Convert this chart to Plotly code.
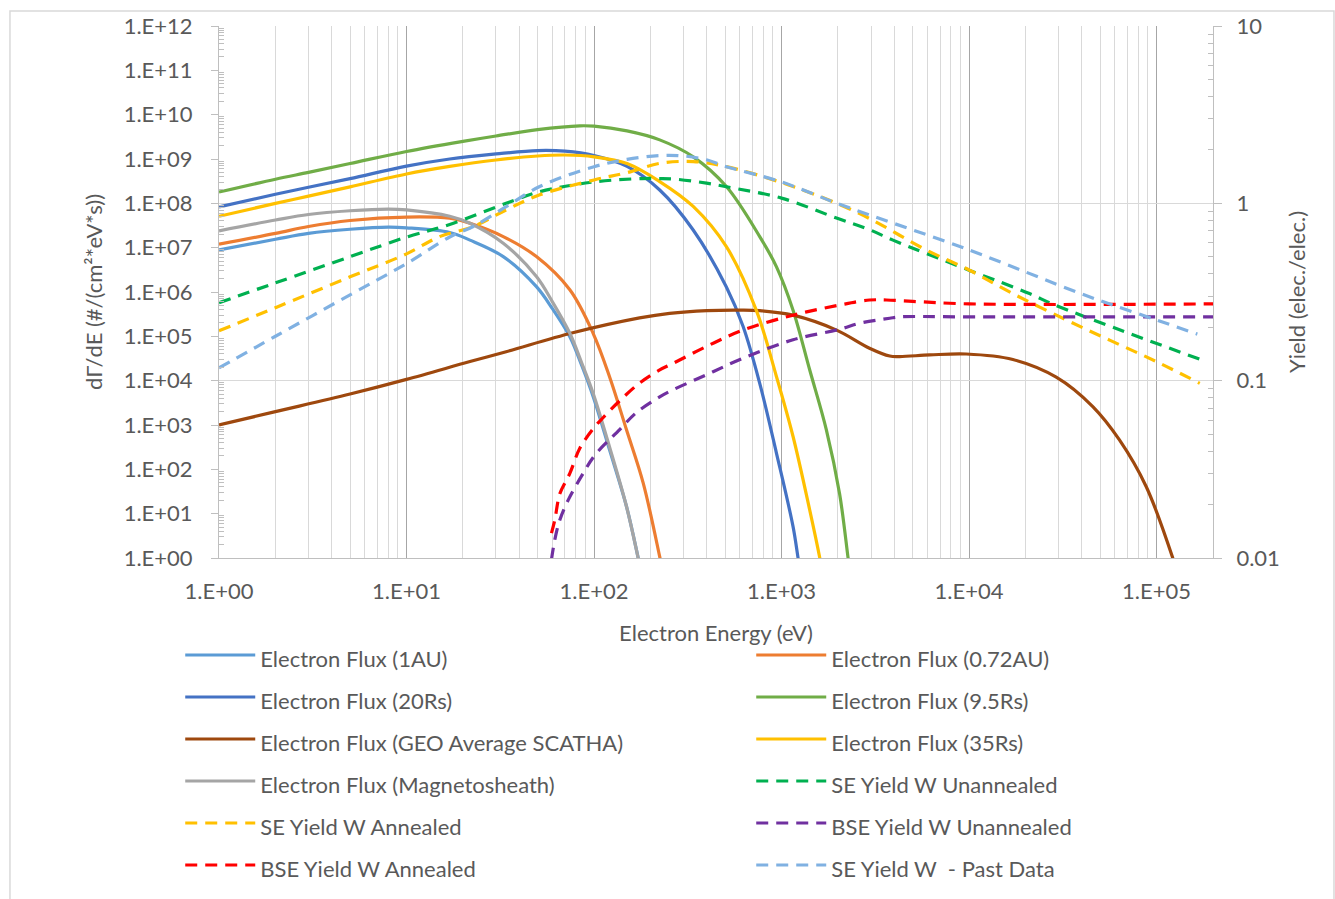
import plotly.graph_objects as go

# ---------------- data ----------------
# Electron flux curves: energy (eV) and dGamma/dE (#/(cm^2*eV*s))
e_1au = [1, 2, 3, 5, 8, 10, 17, 21.8, 32.8, 49.3, 60, 74.3, 86, 98.9, 121, 149, 172, 180]
f_1au = [8.9e6, 1.55e7, 2.1e7, 2.6e7, 2.9e7, 2.8e7, 2.2e7, 1.48e7, 6.3e6, 1.32e6, 4.2e5,
         9.8e4, 2.2e4, 4.4e3, 2.75e2, 1.45e1, 1.0e0, 0.4]

e_072au = [1, 2, 3, 5, 10, 17, 21.8, 32.8, 49.3, 74.3, 98.9, 121, 149, 183, 224, 235]
f_072au = [1.2e7, 2.1e7, 3.0e7, 4.1e7, 4.9e7, 4.6e7, 3.55e7, 1.78e7, 6.3e6, 1.12e6, 1.17e5,
           1.23e4, 7.8e2, 4.9e1, 1.07e0, 0.4]

e_20rs = [1, 2, 3, 5, 10, 17, 30, 50, 70, 100, 150, 224, 338, 508, 624, 765, 940, 1152, 1225, 1300]
f_20rs = [8.3e7, 1.6e8, 2.3e8, 3.6e8, 6.9e8, 1.0e9, 1.3e9, 1.55e9, 1.5e9, 1.2e9, 6.8e8, 2.0e8,
          2.5e7, 1.3e6, 1.66e5, 8.7e3, 2.3e2, 5.1e0, 1.0e0, 0.2]

e_95rs = [1, 2, 3, 5, 10, 20, 30, 50, 84, 100, 150, 224, 338, 508, 765, 940, 1152, 1414, 1734,
          2040, 2264, 2350]
f_95rs = [1.8e8, 3.5e8, 5.0e8, 7.9e8, 1.48e9, 2.5e9, 3.3e9, 4.6e9, 5.6e9, 5.5e9, 4.3e9, 2.7e9,
          1.12e9, 2.4e8, 1.78e7, 3.7e6, 3.9e5, 1.74e4, 7.8e2, 2.8e1, 1.0e0, 0.3]

e_geo = [1, 2, 5, 10, 21.8, 34, 77, 175, 253, 400, 598, 765, 1152, 1965, 2945, 3775, 4267, 6170,
         9660, 17130, 29170, 45700, 63400, 88000, 122000, 130000]
f_geo = [1.0e3, 2.0e3, 5.0e3, 1.07e4, 2.7e4, 4.5e4, 1.2e5, 2.6e5, 3.3e5, 3.8e5, 3.9e5, 3.8e5,
         3.0e5, 1.38e5, 5.4e4, 3.6e4, 3.5e4, 3.8e4, 4.0e4, 3.0e4, 1.2e4, 2.6e3, 4.6e2, 4.1e1,
         1.0e0, 0.4]

e_35rs = [1, 2, 3, 5, 10, 17, 30, 50, 70, 100, 150, 224, 338, 508, 733, 940, 1152, 1414, 1600, 1700]
f_35rs = [5.1e7, 1.0e8, 1.45e8, 2.35e8, 4.6e8, 6.8e8, 9.5e8, 1.17e9, 1.23e9, 1.12e9, 7.9e8,
          3.1e8, 8.5e7, 1.05e7, 3.9e5, 1.23e4, 5.5e2, 1.2e1, 1.0e0, 0.25]

e_msh = [1, 2, 3, 5, 8, 10, 17, 21.8, 32.8, 49.3, 60, 74.3, 86, 98.9, 121, 149, 172, 180]
f_msh = [2.4e7, 4.2e7, 5.6e7, 6.8e7, 7.4e7, 7.1e7, 5.1e7, 3.55e7, 1.26e7, 2.24e6, 6.0e5,
         1.17e5, 2.5e4, 5.2e3, 3.2e2, 1.45e1, 1.0e0, 0.4]

# Yield curves: energy (eV) and yield (elec./elec.)
e_se_un = [1, 2, 5, 10, 17, 34, 51, 100, 180, 224, 270, 398, 508, 1000, 2000, 2950, 3930, 10000,
           21000, 28000, 58500, 170000]
y_se_un = [0.275, 0.356, 0.50, 0.645, 0.76, 1.0, 1.16, 1.32, 1.38, 1.38, 1.37, 1.30, 1.24, 1.07,
           0.82, 0.71, 0.62, 0.42, 0.31, 0.27, 0.20, 0.132]

e_se_an = [1, 2, 5, 10, 15, 22.7, 34, 51, 100, 150, 224, 338, 508, 1000, 1883, 2950, 5900, 10000,
           17000, 33000, 58500, 100000, 170000]
y_se_an = [0.191, 0.258, 0.385, 0.519, 0.649, 0.74, 0.918, 1.114, 1.355, 1.489, 1.68, 1.72, 1.61,
           1.31, 1.02, 0.82, 0.546, 0.421, 0.311, 0.22, 0.166, 0.128, 0.0966]

e_bse_un = [59.3, 61.8, 65.7, 72.8, 87.5, 101, 137, 168, 224, 263, 398, 624, 1152, 2043, 2620,
            3775, 4270, 10000, 200000]
y_bse_un = [0.0098, 0.0127, 0.0164, 0.0212, 0.030, 0.038, 0.053, 0.066, 0.081, 0.0887, 0.108,
            0.134, 0.17, 0.195, 0.211, 0.225, 0.229, 0.229, 0.229]

e_bse_an = [59.3, 61.8, 65.7, 74.3, 84, 101, 112, 137, 175, 224, 263, 398, 624, 1152, 2043, 2945,
            3630, 5000, 10000, 200000]
y_bse_an = [0.0138, 0.0164, 0.023, 0.030, 0.0416, 0.055, 0.062, 0.077, 0.097, 0.115, 0.125,
            0.156, 0.193, 0.234, 0.267, 0.285, 0.285, 0.28, 0.271, 0.271]

e_se_past = [1, 2, 5, 10, 17, 22.7, 34, 51, 100, 150, 224, 300, 398, 508, 1000, 1883, 2950,
             10000, 39000, 58500, 100000, 165000]
y_se_past = [0.118, 0.178, 0.305, 0.457, 0.646, 0.74, 0.957, 1.24, 1.61, 1.77, 1.86, 1.85, 1.76,
             1.61, 1.32, 1.02, 0.86, 0.546, 0.311, 0.267, 0.22, 0.183]

x_tickvals = [1, 10, 100, 1000, 10000, 100000]
x_ticktext = ["1.E+00", "1.E+01", "1.E+02", "1.E+03", "1.E+04", "1.E+05"]
y_tickvals = [10 ** k for k in range(13)]
y_ticktext = ["1.E+%02d" % k for k in range(13)]
y2_tickvals = [0.01, 0.1, 1, 10]
y2_ticktext = ["0.01", "0.1", "1", "10"]

# ---------------- figure ----------------
FONT = "Lato, 'Open Sans', sans-serif"
TXT = "#595959"
DASH = "12px,8px"

series = [
    ("Electron Flux (1AU)", e_1au, f_1au, "#5B9BD5", "solid", "y"),
    ("Electron Flux (0.72AU)", e_072au, f_072au, "#ED7D31", "solid", "y"),
    ("Electron Flux (20Rs)", e_20rs, f_20rs, "#4472C4", "solid", "y"),
    ("Electron Flux (9.5Rs)", e_95rs, f_95rs, "#70AD47", "solid", "y"),
    ("Electron Flux (GEO Average SCATHA)", e_geo, f_geo, "#9E480E", "solid", "y"),
    ("Electron Flux (35Rs)", e_35rs, f_35rs, "#FFC000", "solid", "y"),
    ("Electron Flux (Magnetosheath)", e_msh, f_msh, "#A5A5A5", "solid", "y"),
    ("SE Yield W Unannealed", e_se_un, y_se_un, "#00B050", DASH, "y2"),
    ("SE Yield W Annealed", e_se_an, y_se_an, "#FFC000", DASH, "y2"),
    ("BSE Yield W Unannealed", e_bse_un, y_bse_un, "#7030A0", DASH, "y2"),
    ("BSE Yield W Annealed", e_bse_an, y_bse_an, "#FF0000", DASH, "y2"),
    ("SE Yield W  - Past Data", e_se_past, y_se_past, "#80B1E2", DASH, "y2"),
]

fig = go.Figure()
for name, xs, ys, col, dash, ax in series:
    fig.add_trace(go.Scatter(
        x=xs, y=ys, mode="lines", yaxis=ax,
        name='<span style="font-size:22px">' + name + '</span>',
        line=dict(color=col, width=3.2, dash=dash, shape="spline", smoothing=1.0),
        cliponaxis=True,
    ))

minor_x = [m * 10 ** k for k in range(0, 6) for m in range(2, 10) if m * 10 ** k < 2e5]
minor_y = [m * 10 ** k for k in range(0, 12) for m in range(2, 10)]
minor_y2 = [m * 10 ** k for k in range(-2, 1) for m in range(2, 10)]

fig.update_layout(
    width=1335, height=899, autosize=False,
    margin=dict(l=219, r=122, t=26, b=341, autoexpand=False),
    paper_bgcolor="white", plot_bgcolor="white",
    font=dict(family=FONT, size=22, color=TXT),
    showlegend=True,
    legend=dict(
        orientation="h", x=-0.039, xanchor="left", y=-0.1335, yanchor="top",
        entrywidth=486, entrywidthmode="pixels", itemwidth=70,
        font=dict(family=FONT, size=30, color=TXT),
        bgcolor="rgba(0,0,0,0)", traceorder="normal",
    ),
    xaxis=dict(
        type="log", range=[0, 5.30103], showline=True, linecolor="#bfbfbf", linewidth=1,
        tickmode="array", tickvals=x_tickvals, ticktext=x_ticktext, ticks="",
        showgrid=True, gridcolor="#a6a6a6", gridwidth=1, zeroline=False,
        minor=dict(tickmode="array", tickvals=minor_x, showgrid=True, gridcolor="#d9d9d9",
                   gridwidth=1, ticks=""),
        tickfont=dict(family=FONT, size=22, color=TXT),
        ticklabelstandoff=14,
        title=dict(text="Electron Energy (eV)", standoff=22,
                   font=dict(family=FONT, size=22, color=TXT)),
    ),
    yaxis=dict(
        type="log", range=[0, 12], showline=True, linecolor="#bfbfbf", linewidth=1,
        tickmode="array", tickvals=y_tickvals, ticktext=y_ticktext,
        ticks="outside", ticklen=7, tickcolor="#bfbfbf",
        showgrid=False, zeroline=False,
        minor=dict(tickmode="array", tickvals=minor_y, ticks="inside", ticklen=5,
                   tickcolor="#bfbfbf", showgrid=False),
        tickfont=dict(family=FONT, size=22, color=TXT),
        ticklabelstandoff=14,
        title=dict(text="dΓ/dE (#/(cm²*eV*s))", standoff=14,
                   font=dict(family=FONT, size=22, color=TXT)),
    ),
    yaxis2=dict(
        type="log", range=[-2, 1], overlaying="y", side="right", anchor="x",
        showline=True, linecolor="#bfbfbf", linewidth=1,
        tickmode="array", tickvals=y2_tickvals, ticktext=y2_ticktext,
        ticks="outside", ticklen=8, tickcolor="#bfbfbf",
        showgrid=True, gridcolor="#d9d9d9", gridwidth=1, zeroline=False,
        minor=dict(tickmode="array", tickvals=minor_y2, ticks="inside", ticklen=5,
                   tickcolor="#bfbfbf", showgrid=False),
        tickfont=dict(family=FONT, size=22, color=TXT),
        ticklabelstandoff=10,
        title=dict(text="Yield (elec./elec.)", standoff=10,
                   font=dict(family=FONT, size=22, color=TXT)),
    ),
    shapes=[dict(type="rect", xref="paper", yref="paper",
                 x0=-0.2103, x1=1.1217, y0=-0.66, y1=1.0282,
                 line=dict(color="#d9d9d9", width=1.5), layer="below")],
)

fig.write_html("out.html")
